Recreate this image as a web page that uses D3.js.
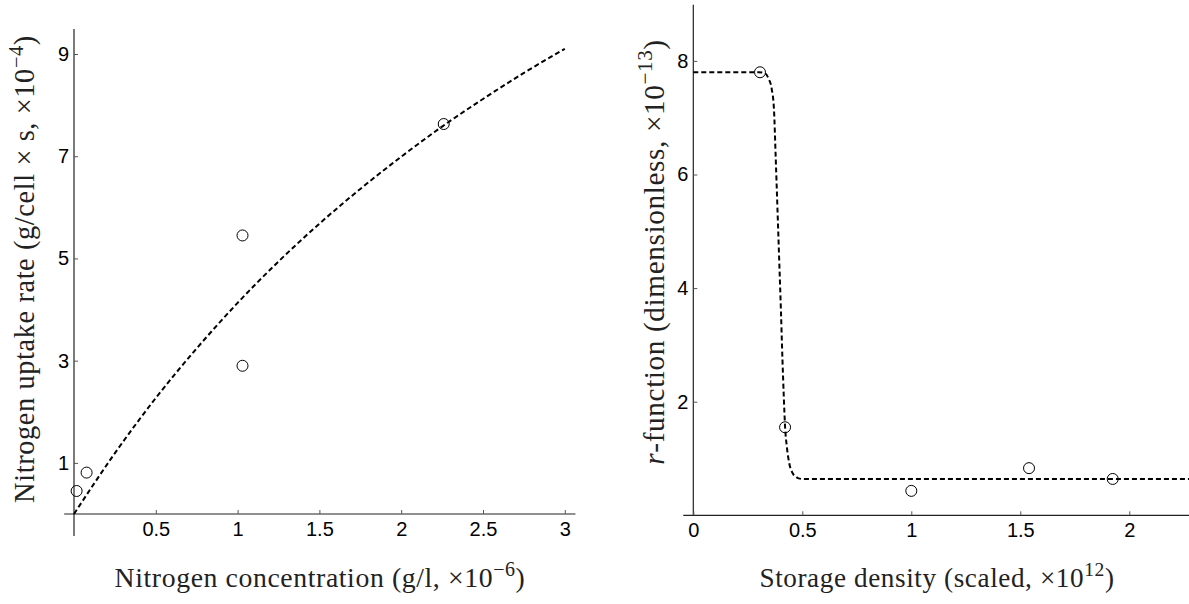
<!DOCTYPE html>
<html><head><meta charset="utf-8">
<script src="https://cdn.jsdelivr.net/npm/d3@7"></script>
<style>body{margin:0;background:#fff}</style>
</head><body><svg id="c" width="1189" height="604"></svg>
<script>
// Left panel: nitrogen uptake
const leftPtsX = [0.016, 0.077, 1.03, 1.03, 2.26];
const leftPtsY = [0.45, 0.81, 5.45, 2.9, 7.63];
const leftCurveX = [0, 0.25, 0.5, 0.75, 1, 1.25, 1.5, 1.75, 2, 2.25, 2.5, 2.75, 3];
const leftCurveY = [0, 1.19, 2.27, 3.24, 4.13, 4.94, 5.68, 6.36, 6.99, 7.58, 8.12, 8.63, 9.1];
const leftXTicks = [0.5, 1, 1.5, 2, 2.5, 3];
const leftYTicks = [1, 3, 5, 7, 9];
// Right panel: r-function
const rightPtsX = [0.306, 0.421, 1.0, 1.54, 1.924];
const rightPtsY = [7.8, 1.55, 0.43, 0.83, 0.64];
const rightCurveX = [0, 0.1, 0.2, 0.3, 0.33, 0.345, 0.36, 0.37, 0.378, 0.386, 0.394, 0.402, 0.409, 0.415, 0.421, 0.429, 0.44, 0.456, 0.47, 0.483, 0.5, 1, 1.5, 2, 2.3];
const rightCurveY = [7.8, 7.8, 7.8, 7.8, 7.78, 7.69, 7.5, 7.15, 6.3, 5.4, 4.5, 3.6, 2.74, 2.1, 1.56, 1.21, 0.92, 0.74, 0.68, 0.65, 0.64, 0.64, 0.64, 0.64, 0.64];
const rightXTicks = [0, 0.5, 1, 1.5, 2];
const rightYTicks = [2, 4, 6, 8];

const svg = d3.select("#c");
const fmt = d3.format("~g");
const serif = "'Liberation Serif', 'DejaVu Serif', serif";

function panel(cfg) {
  const x = d3.scaleLinear().domain([0, cfg.xMax]).range(cfg.xr);
  const y = d3.scaleLinear().domain([0, cfg.yMax]).range(cfg.yr);
  const g = svg.append("g");
  g.append("line").attr("x1", x(cfg.xLo)).attr("x2", x(cfg.xHi)).attr("y1", y(0)).attr("y2", y(0))
    .attr("stroke", "#222").attr("stroke-width", 1.2);
  g.append("line").attr("x1", x(0)).attr("x2", x(0)).attr("y1", y(cfg.yLo)).attr("y2", y(cfg.yHi))
    .attr("stroke", "#222").attr("stroke-width", 1.2);
  const ax = g.append("g").attr("transform", `translate(0,${y(0)})`)
    .call(d3.axisBottom(x).tickValues(cfg.xTicks).tickSize(-4).tickPadding(8).tickFormat(fmt));
  const ay = g.append("g").attr("transform", `translate(${x(0)},0)`)
    .call(d3.axisLeft(y).tickValues(cfg.yTicks).tickSize(-4).tickPadding(5).tickFormat(fmt));
  [ax, ay].forEach(a => {
    a.select(".domain").remove();
    a.attr("font-family", "'Liberation Sans', Arial, sans-serif").attr("font-size", 20);
    a.selectAll("line").attr("stroke", "#555");
    a.selectAll("text").attr("fill", "#000");
  });
  const line = d3.line().x(d => x(d[0])).y(d => y(d[1])).curve(d3.curveMonotoneX);
  g.append("path").datum(cfg.cx.map((v, i) => [v, cfg.cy[i]]))
    .attr("d", line).attr("fill", "none").attr("stroke", "#000")
    .attr("stroke-width", 2).attr("stroke-dasharray", "5,3");
  g.selectAll("circle.pt").data(cfg.px.map((v, i) => [v, cfg.py[i]])).enter().append("circle")
    .attr("cx", d => x(d[0])).attr("cy", d => y(d[1])).attr("r", 5.5)
    .attr("fill", "none").attr("stroke", "#000").attr("stroke-width", 1);
  return g;
}

panel({xMax: 3, xr: [74, 564.8], yMax: 9, yr: [514, 54],
  xLo: -0.06, xHi: 3.065, yLo: -0.43, yHi: 9.49,
  xTicks: leftXTicks, yTicks: leftYTicks,
  cx: leftCurveX, cy: leftCurveY, px: leftPtsX, py: leftPtsY});
panel({xMax: 2, xr: [693.3, 1129.3], yMax: 8, yr: [515.3, 60.9],
  xLo: -0.046, xHi: 2.3, yLo: 0, yHi: 8.99,
  xTicks: rightXTicks, yTicks: rightYTicks,
  cx: rightCurveX, cy: rightCurveY, px: rightPtsX, py: rightPtsY});

function title(parts, cxp, cyp, rot, width) {
  const t = svg.append("text").attr("font-family", serif).attr("font-size", 20)
    .attr("text-anchor", "middle").attr("fill", "#222").attr("letter-spacing", "0.6")
    .attr("transform", `translate(${cxp},${cyp}) rotate(${rot})`);
  parts.forEach(p => {
    const s = t.append("tspan").text(p.t);
    if (p.sup) s.attr("font-size", "0.72em").attr("dy", "-0.55em");
    if (p.down) s.attr("dy", "0.4em");
    if (p.it) s.attr("font-style", "italic");
  });
  const w = t.node().getComputedTextLength();
  t.attr("font-size", 20 * width / w);
}
title([{t: "Nitrogen concentration (g/l, ×10"}, {t: "−6", sup: true}, {t: ")", down: true}], 320, 587, 0, 419);
title([{t: "Storage density (scaled, ×10"}, {t: "12", sup: true}, {t: ")", down: true}], 937, 587, 0, 362);
title([{t: "Nitrogen uptake rate (g/cell × s, ×10"}, {t: "−4", sup: true}, {t: ")", down: true}], 34, 269, -90, 478);
title([{t: "r", it: true}, {t: "-function (dimensionless, ×10"}, {t: "−13", sup: true}, {t: ")", down: true}], 664, 252, -90, 435);
</script>
</body></html>
